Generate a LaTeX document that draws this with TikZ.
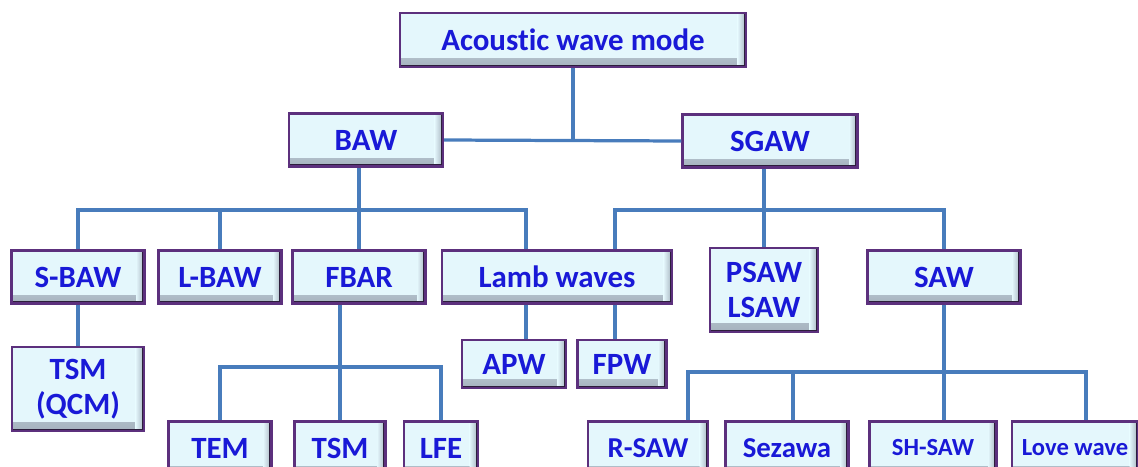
\documentclass[tikz,border=0pt]{standalone}
\usepackage{fontspec}
\setmainfont{Carlito}[Ligatures=NoCommon]
\usetikzlibrary{positioning,calc}
\definecolor{BoxEdge}{RGB}{92,48,125}
\definecolor{BoxDark}{RGB}{45,30,60}
\definecolor{BoxFill}{RGB}{228,247,252}
\definecolor{BoxShade}{RGB}{165,178,190}
\definecolor{LabelBlue}{RGB}{25,25,215}
\definecolor{LinkBlue}{RGB}{72,124,188}
\tikzset{
  mode/.style={draw=BoxEdge, line width=1.6pt, fill=BoxFill, text=LabelBlue,
    font=\fontsize{22}{25}\selectfont\bfseries, align=center, inner sep=0pt,
    minimum height=53*0.025cm,
    path picture={
      \shade[top color=BoxFill, bottom color=BoxShade]
        ([yshift=6pt]path picture bounding box.south west) rectangle
        (path picture bounding box.south east);
      \shade[left color=BoxFill, right color=BoxShade]
        ([xshift=-6pt]path picture bounding box.south east) rectangle
        (path picture bounding box.north east);
      \draw[BoxDark, line width=3pt] (path picture bounding box.south west)
        -- (path picture bounding box.south east)
        -- (path picture bounding box.north east);
    }},
  boxw/.style={minimum width=#1*0.025cm},
  boxh/.style={minimum height=#1*0.025cm},
  midtext/.style={font=\fontsize{20.5}{24}\selectfont\bfseries},
  smalltext/.style={font=\fontsize{17.5}{21}\selectfont\bfseries},
  link/.style={LinkBlue, line width=2.3pt},
}
\begin{document}
\begin{tikzpicture}[x=0.025cm, y=-0.025cm]
  \useasboundingbox (0,0) rectangle (1138,467);
  % levels 0 and 1
  \node[mode, boxw=346, boxh=54] (acoustic) at (573,40) {Acoustic wave mode};
  \node[mode, boxw=154] (baw) at (366,140) {BAW};
  \node[mode, boxw=175] (sgaw) at (770,141) {SGAW};
  % level 2
  \node[mode, boxw=133] (sbaw) at (78,277) {S-BAW};
  \node[mode, boxw=123] (lbaw) at (220,277) {L-BAW};
  \node[mode, boxw=133] (fbar) at (359,277) {FBAR};
  \node[mode, boxw=230] (lamb) at (557,277) {Lamb waves};
  \node[mode, boxw=108, boxh=84] (psaw) at (764,290) {PSAW\\LSAW};
  \node[mode, boxw=153] (saw) at (944,277) {SAW};
  % level 3
  \node[mode, boxw=132, boxh=84] (qcm) at (78,389) {TSM\\(QCM)};
  \node[mode, boxw=104, boxh=48] (apw) at (514,364) {APW};
  \node[mode, boxw=89, boxh=48] (fpw) at (622,364) {FPW};
  \node[mode, boxw=103] (tem) at (220,448) {TEM};
  \node[mode, boxw=91] (tsm) at (340,448) {TSM};
  \node[mode, boxw=74] (lfe) at (441,448) {LFE};
  \node[mode, boxw=120, midtext] (rsaw) at (648,448) {R-SAW};
  \node[mode, boxw=123, midtext] (sezawa) at (787,448) {Sezawa};
  \node[mode, boxw=127, smalltext] (shsaw) at (933,448) {SH-SAW};
  \node[mode, boxw=126, smalltext] (love) at (1075,448) {Love wave};
  % bus lines and entry points
  \coordinate (bawbus) at (0,210);
  \coordinate (fbarbus) at (0,367);
  \coordinate (sawbus) at (0,372);
  \coordinate (lambl) at ($(lamb.north)+(-31,0)$);
  \coordinate (lambr) at ($(lamb.north)+(58,0)$);
  \coordinate (rsawin) at ($(rsaw.north)+(40,0)$);
  \coordinate (sezin) at ($(sezawa.north)+(6,0)$);
  \coordinate (lovein) at ($(love.north)+(11,0)$);
  % connectors
  \draw[link] (acoustic.south) -- (acoustic.south |- baw.east);
  \draw[link] (baw.east) -- (sgaw.west);
  \draw[link] (fbar.north |- baw.south) -- (fbar.north);
  \draw[link] (sbaw.north) |- (lambl |- bawbus) -- (lambl);
  \draw[link] (lbaw.north) -- (lbaw.north |- bawbus);
  \draw[link] (psaw.north |- sgaw.south) -- (psaw.north);
  \draw[link] (lambr) |- (saw.north |- bawbus) -- (saw.north);
  \draw[link] (sbaw.south) -- (qcm.north);
  \draw[link] (lambl |- lamb.south) -- (lambl |- apw.north);
  \draw[link] (lambr |- lamb.south) -- (lambr |- fpw.north);
  \draw[link] (tsm.north |- fbar.south) -- (tsm.north);
  \draw[link] (tem.north) |- (lfe.north |- fbarbus) -- (lfe.north);
  \draw[link] (saw.south) -- (saw.south |- shsaw.north);
  \draw[link] (rsawin) |- (lovein |- sawbus) -- (lovein);
  \draw[link] (sezin) -- (sezin |- sawbus);
\end{tikzpicture}
\end{document}
